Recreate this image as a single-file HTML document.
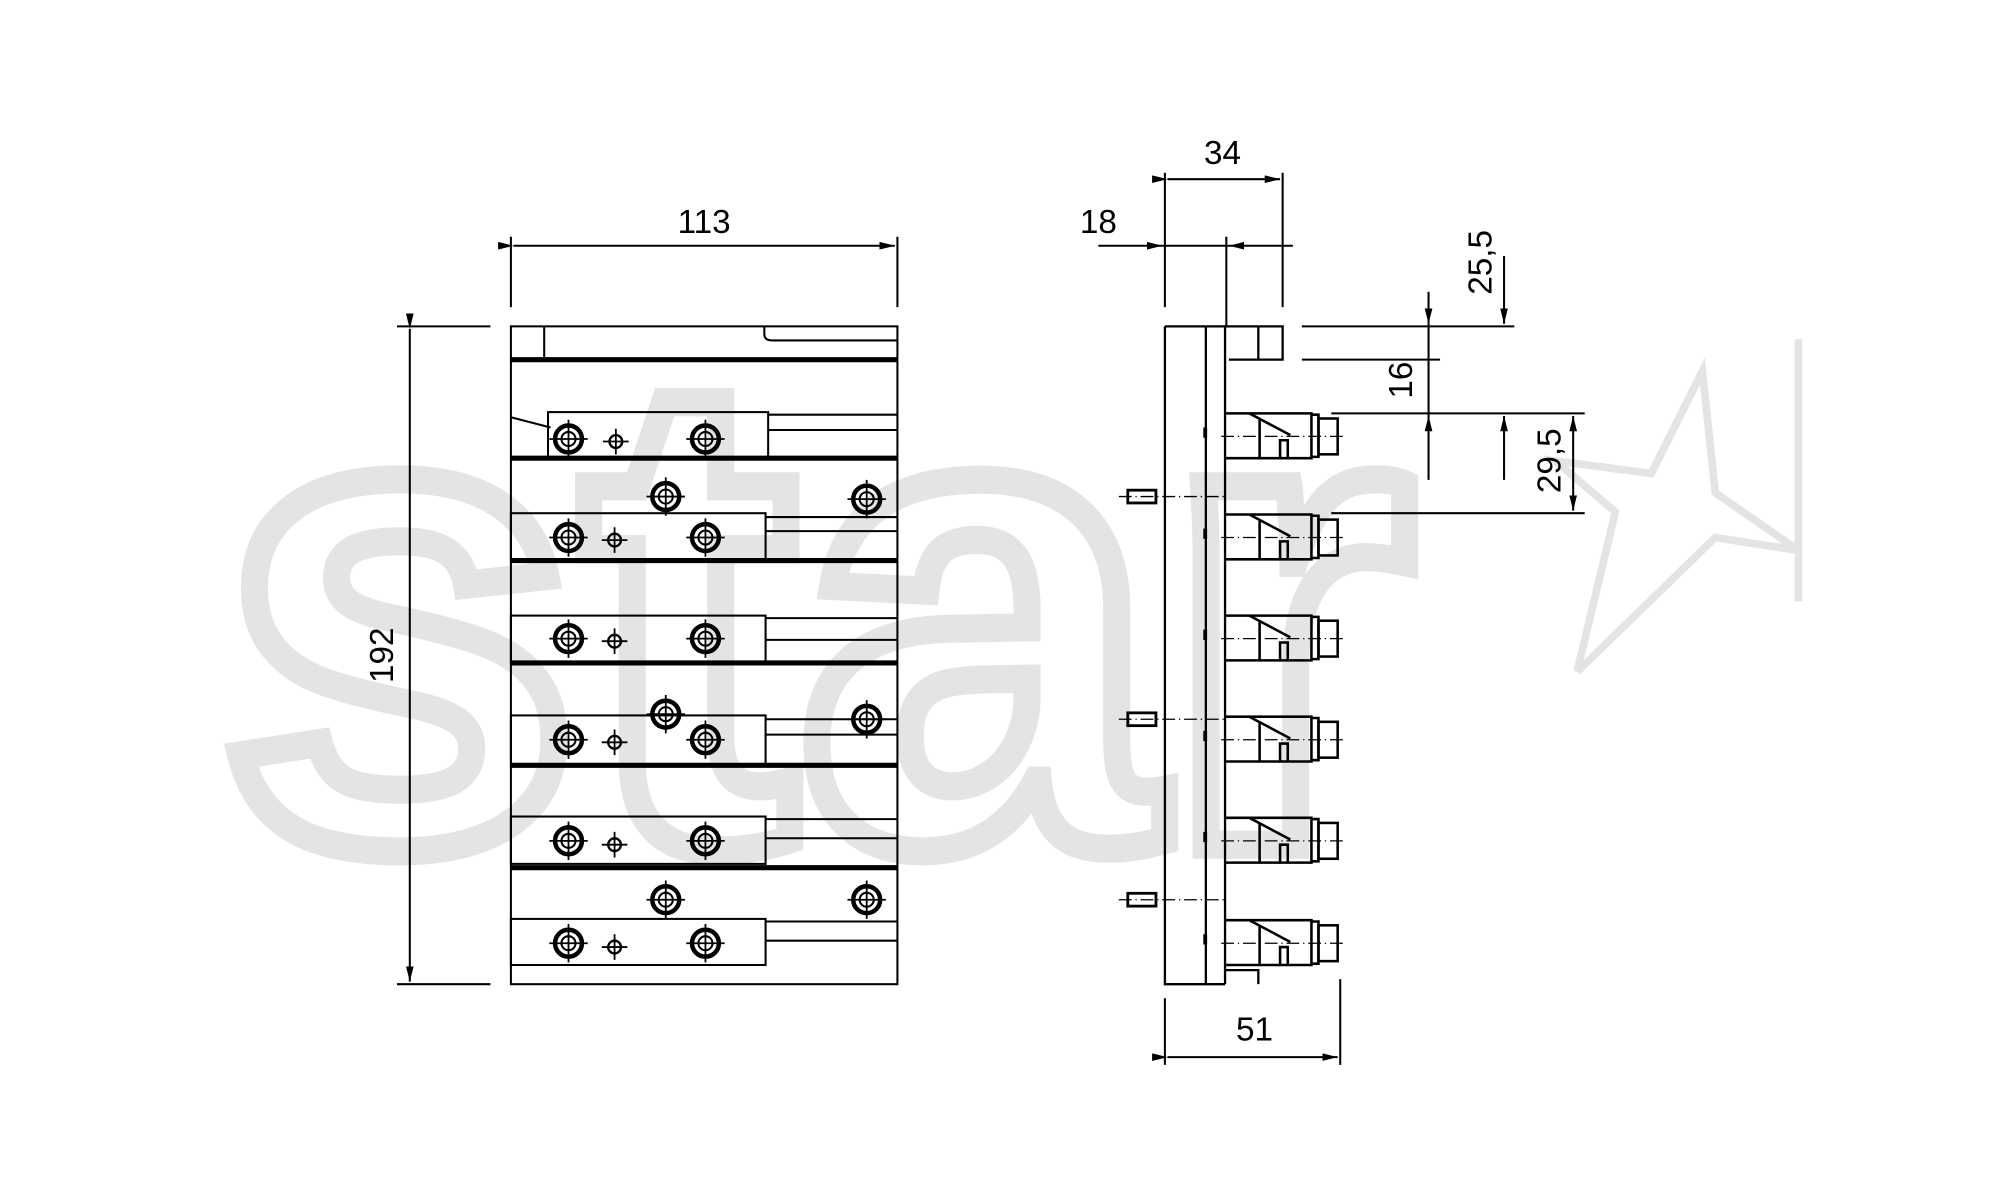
<!DOCTYPE html>
<html><head><meta charset="utf-8"><style>html,body{margin:0;padding:0;background:#fff}svg{display:block}</style></head>
<body>
<svg width="2006" height="1180" viewBox="0 0 1567 922" xmlns="http://www.w3.org/2000/svg" font-family="Liberation Sans, sans-serif">
<defs>
<marker id="a" viewBox="0 0 12 6" refX="12" refY="3" markerWidth="12" markerHeight="6" markerUnits="userSpaceOnUse" orient="auto"><path d="M0,0 L12,3 L0,6z" fill="#000"/></marker>
<g id="hb"><circle r="10.5" fill="none" stroke="#000" stroke-width="3.5"/><circle r="5.5" fill="none" stroke="#000" stroke-width="1.6"/><path d="M-15,0H15M0,-15V15" stroke="#000" stroke-width="1.4"/></g>
<g id="hs"><circle r="5" fill="none" stroke="#000" stroke-width="1.8"/><path d="M-10,0H10M0,-10V10" stroke="#000" stroke-width="1.4"/></g>
<g id="tooth" fill="none" stroke="#000" stroke-width="2">
<path d="M0,0H67.5V35H43V21H49V35"/>
<path d="M19,0L51,17"/><path d="M27,5V35"/>
<path d="M0,35H43"/>
<path d="M67.5,1H73V34H67.5"/><rect x="73" y="4" width="15" height="28"/>
<path d="M-3,18H95" stroke-width="1" stroke-dasharray="10,3,1,3"/>
</g>
<g id="pin" fill="none" stroke="#000" stroke-width="2.2"><rect x="881" y="-5" width="22" height="10"/><path d="M874,0H957" stroke-width="1" stroke-dasharray="10,3,1,3"/></g>
</defs>
<g fill="none" stroke="#e4e4e4" stroke-width="22">
<text x="170" y="660" font-size="530" font-weight="bold" textLength="935" lengthAdjust="spacingAndGlyphs">star</text>
</g>
<polyline points="1232,525 1262,400 1215,360 1290,370 1330,290 1340,385 1405,430 1340,420 1232,525" fill="none" stroke="#e4e4e4" stroke-width="6"/>
<polyline points="1405,265 1405,470" fill="none" stroke="#e4e4e4" stroke-width="6"/>

<g stroke="#000" fill="none" stroke-width="1.6">
<rect x="399" y="255" width="302" height="514"/>
<path d="M425,255V281"/>
<path d="M597,255V261Q597,266 603,266H701"/>
<g stroke-width="4"><path d="M399,281H701M399,358H701M399,438H701M399,518H701M399,598H701M399,678H701"/></g>
<rect x="428" y="322" width="172" height="36"/><path d="M600,324H701M600,336H701M399,326L430,334"/>
<rect x="399" y="401" width="199" height="37"/><path d="M598,404H701M598,415H701"/>
<rect x="399" y="481" width="199" height="37"/><path d="M598,483H701M598,500H701"/>
<rect x="399" y="559" width="199" height="39"/><path d="M598,562H701M598,574H701"/>
<rect x="399" y="638" width="199" height="37"/><path d="M598,640H701M598,655H701"/>
<rect x="399" y="718" width="199" height="36"/><path d="M598,720H701M598,735H701"/>
<path d="M399,185V240M701,185V240"/>
<path d="M401,192H699" marker-start="url(#a)" marker-end="url(#a)"/>
<path d="M310,255H383M310,769H383"/>
<path d="M320,257V767" marker-start="url(#a)" marker-end="url(#a)"/>
</g>
<g>
<use href="#hb" x="444" y="343"/><use href="#hs" x="481" y="345"/><use href="#hb" x="551" y="343"/>
<use href="#hb" x="520" y="388"/><use href="#hb" x="677" y="390"/>
<use href="#hb" x="444" y="420"/><use href="#hs" x="480" y="422"/><use href="#hb" x="551" y="420"/>
<use href="#hb" x="444" y="499"/><use href="#hs" x="480" y="501"/><use href="#hb" x="551" y="499"/>
<use href="#hb" x="520" y="558"/><use href="#hb" x="677" y="562"/>
<use href="#hb" x="444" y="578"/><use href="#hs" x="480" y="580"/><use href="#hb" x="551" y="578"/>
<use href="#hb" x="444" y="657"/><use href="#hs" x="480" y="660"/><use href="#hb" x="551" y="657"/>
<use href="#hb" x="520" y="703"/><use href="#hb" x="677" y="703"/>
<use href="#hb" x="444" y="737"/><use href="#hs" x="480" y="740"/><use href="#hb" x="551" y="737"/>
</g>
<text x="550" y="182" font-size="26" text-anchor="middle">113</text>
<text transform="translate(307,512) rotate(-90)" font-size="26" text-anchor="middle">192</text>

<g stroke="#000" fill="none" stroke-width="1.8">
<path d="M910,255V769H957M910,255H1002V281H960M942,255V769M983,255V281"/>
<path d="M957,255V769"/>
<path d="M957,758H983V769"/>
</g>
<g stroke="#000" fill="none" stroke-width="1.6">
<path d="M910,135V240M1002,135V240M958,185V255"/>
<path d="M912,140H1000" marker-start="url(#a)" marker-end="url(#a)"/>
<path d="M858,192H908" marker-end="url(#a)"/><path d="M1010,192H960" marker-end="url(#a)"/><path d="M908,192H960"/>
<path d="M1017,255H1183M1017,281H1125M1040,323H1238M1040,401H1238"/>
<path d="M1116,228V253" marker-end="url(#a)"/><path d="M1116,375V325" marker-end="url(#a)"/><path d="M1116,253V325"/>
<path d="M1175,200V253" marker-end="url(#a)"/><path d="M1175,375V325" marker-end="url(#a)"/>
<path d="M1229,341V325" marker-end="url(#a)"/><path d="M1229,383V399" marker-end="url(#a)"/><path d="M1229,341V383"/>
<path d="M910,780V832M1047,765V832"/>
<path d="M912,826H1045" marker-start="url(#a)" marker-end="url(#a)"/>
</g>
<g>
<use href="#tooth" x="957" y="323"/><use href="#tooth" x="957" y="402"/><use href="#tooth" x="957" y="481"/>
<use href="#tooth" x="957" y="560"/><use href="#tooth" x="957" y="639"/><use href="#tooth" x="957" y="719"/>
<use href="#pin" x="0" y="388"/><use href="#pin" x="0" y="562"/><use href="#pin" x="0" y="703"/>
</g>
<g fill="#000"><rect x="940" y="334" width="3" height="8"/><rect x="940" y="413" width="3" height="8"/><rect x="940" y="492" width="3" height="8"/><rect x="940" y="571" width="3" height="8"/><rect x="940" y="650" width="3" height="8"/><rect x="940" y="730" width="3" height="8"/></g>
<text x="955" y="128" font-size="26" text-anchor="middle">34</text>
<text x="858" y="182" font-size="26" text-anchor="middle">18</text>
<text x="980" y="813" font-size="26" text-anchor="middle">51</text>
<text transform="translate(1103,297) rotate(-90)" font-size="26" text-anchor="middle">16</text>
<text transform="translate(1165,205) rotate(-90)" font-size="26" text-anchor="middle">25,5</text>
<text transform="translate(1219,360) rotate(-90)" font-size="26" text-anchor="middle">29,5</text>
</svg>
</body></html>
